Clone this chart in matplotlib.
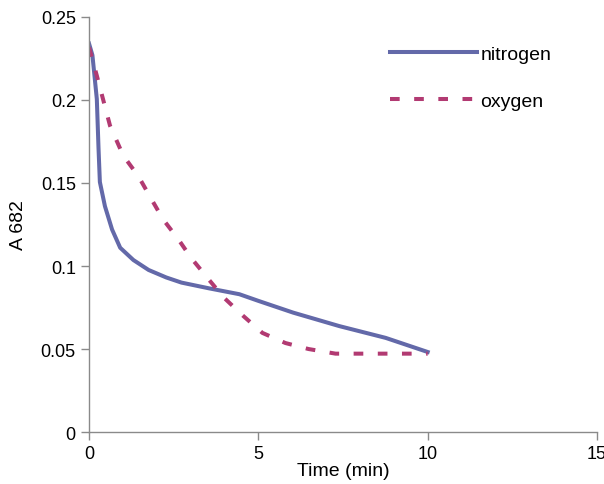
import matplotlib.pyplot as plt

plt.rcParams["font.family"] = ["Liberation Sans", "DejaVu Sans"]

# nitrogen curve
n_time = [0, 0.1, 0.23, 0.28, 0.32, 0.47, 0.68, 0.92, 1.31, 1.76, 2.28, 2.73, 3.53, 4.44, 5.0, 6.03, 7.39, 8.76, 10.0]
n_abs = [0.234, 0.227, 0.2006, 0.171, 0.1506, 0.136, 0.122, 0.111, 0.1036, 0.0976, 0.0931, 0.090, 0.0866, 0.083, 0.079, 0.0719, 0.0638, 0.0567, 0.0482]

# oxygen curve
o_time = [0, 0.23, 0.62, 1.01, 1.46, 1.85, 2.19, 2.64, 3.01, 3.53, 3.98, 4.55, 5.12, 5.8, 6.48, 7.28, 8.5, 10.0]
o_abs = [0.2317, 0.2147, 0.1845, 0.1665, 0.154, 0.140, 0.128, 0.116, 0.105, 0.092, 0.081, 0.070, 0.0597, 0.0536, 0.050, 0.0472, 0.0472, 0.0472]

x_ticks = [0, 5, 10, 15]
y_ticks = [0, 0.05, 0.1, 0.15, 0.2, 0.25]
y_labels = ["0", "0.05", "0.1", "0.15", "0.2", "0.25"]

fig = plt.figure(figsize=(6.04, 4.85), dpi=100)
ax = fig.add_axes([0.1474, 0.1072, 0.8410, 0.8557])

ax.plot(n_time, n_abs, color="#6369A9", linewidth=2.9, label="nitrogen")
ax.plot(o_time, o_abs, color="#B23A72", linewidth=2.9,
        linestyle=(0, (2.4, 3.6)), label="oxygen")

ax.set_xlim(0, 15)
ax.set_ylim(0, 0.25)
ax.set_xticks(x_ticks)
ax.set_yticks(y_ticks)
ax.set_yticklabels(y_labels)

for side in ["top", "right"]:
    ax.spines[side].set_visible(False)
for side in ["left", "bottom"]:
    ax.spines[side].set_color("#8a8a8a")
    ax.spines[side].set_linewidth(1.0)
ax.tick_params(colors="#8a8a8a", length=6, width=1.0, labelcolor="black", labelsize=13)

ax.set_xlabel("Time (min)", fontsize=14, labelpad=0)
ax.set_ylabel("A 682", fontsize=14, labelpad=10)

ax.legend(loc="upper left", bbox_to_anchor=(0.5925, 0.932), frameon=False,
          fontsize=14, handlelength=4.5, handletextpad=0.15, labelspacing=1.5,
          borderpad=0, borderaxespad=0)

fig.savefig("out.png", dpi=100)
